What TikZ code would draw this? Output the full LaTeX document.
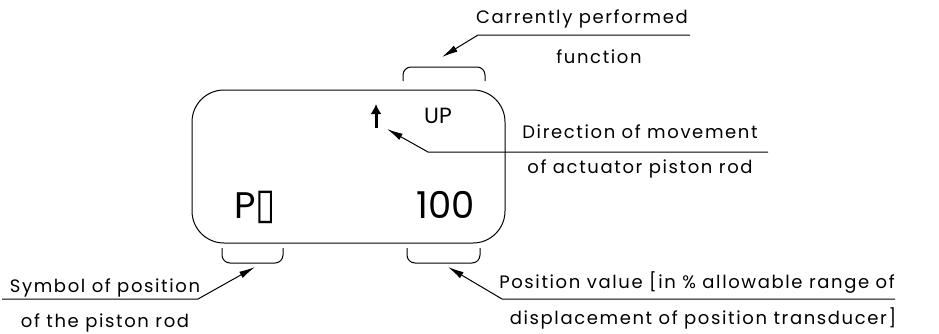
\documentclass[tikz,border=0pt]{standalone}
\usepackage{fontspec}
\setmainfont{Poppins}
\newfontfamily\glyphfont{DejaVu Sans}
\usetikzlibrary{arrows.meta, positioning, calc}

\tikzset{
  leader/.style={line width=1pt, -{Latex[length=16pt, width=7pt]}},
  bracket/.style={line width=1pt, rounded corners=8pt},
  lbl/.style={anchor=base, inner sep=0pt, font=\fontsize{18}{20}\selectfont\addfontfeatures{LetterSpace=9}},
  disptext/.style={anchor=base, inner sep=0pt}
}

\begin{document}
\begin{tikzpicture}[x=1pt, y=-1pt, >=Stealth]
    \useasboundingbox (0,0) rectangle (939,333);

    % --- Display panel ---
    \node[draw, line width=1pt, rounded corners=32pt, minimum width=313pt, minimum height=153pt,
          inner sep=0pt] (disp) at (348.5,166.5) {};

    % Display contents
    \node[disptext, font=\fontsize{22}{24}\selectfont] (func) at (438,123) {UP};
    \node[disptext, font=\fontsize{37}{40}\selectfont] (sym) at (255,218) {P{\glyphfont\scalebox{1}[1.15]{▯}}};
    \node[disptext, font=\fontsize{37}{40}\selectfont] (val) at (446,218) {100};
    \coordinate (dirtip) at (376,104);
    \coordinate (dirbase) at (376,128);
    \draw[line width=3pt, -{Latex[length=10pt, width=11pt]}] (dirbase) -- (dirtip);

    % --- Brackets ---
    \draw[bracket] (403,81) -- (403,67) -- (485,67) -- (485,81);
    \draw[bracket] (222,248) -- (222,263) -- (283,263) -- (283,248);
    \draw[bracket] (407,248) -- (407,263) -- (480,263) -- (480,248);

    % --- Labels ---
    \node[lbl] (funcA) at (582,23) {Carrently performed};
    \node[lbl] (funcB) at (599,63) {function};
    \node[lbl] (dirA) at (640,138) {Direction of movement};
    \node[lbl] (dirB) at (640,173) {of actuator piston rod};
    \node[lbl] (symA) at (105,292) {Symbol of position};
    \node[lbl] (symB) at (105,327) {of the piston rod};
    \node[lbl] (valA) at (697,288) {Position value [in \% allowable range of};
    \node[lbl] (valB) at (703,324) {displacement of position transducer]};

    % --- Leaders ---
    \coordinate (funcend) at (690,35);
    \coordinate (funcknee) at (478,35);
    \coordinate (functip) at (442,57);
    \draw[leader] (funcend) -- (funcknee) -- (functip);

    \coordinate (dirend) at (768,152);
    \coordinate (dirknee) at (428,152);
    \coordinate (dirpt) at (387,129);
    \draw[leader] (dirend) -- (dirknee) -- (dirpt);

    \coordinate (symend) at (2,299);
    \coordinate (symknee) at (198,299);
    \coordinate (symtip) at (255,267);
    \draw[leader] (symend) -- (symknee) -- (symtip);

    \coordinate (valend) at (895,299);
    \coordinate (valknee) at (502,299);
    \coordinate (valtip) at (448,267);
    \draw[leader] (valend) -- (valknee) -- (valtip);
\end{tikzpicture}
\end{document}
